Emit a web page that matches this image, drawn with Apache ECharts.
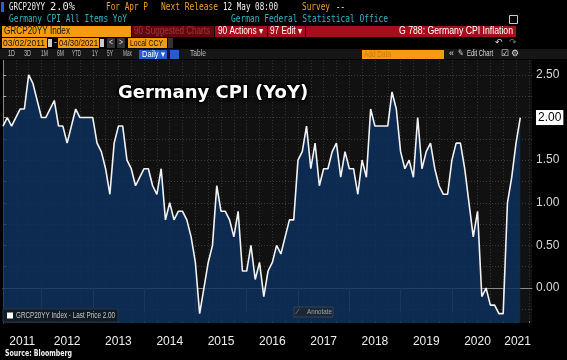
<!DOCTYPE html>
<html><head><meta charset="utf-8">
<script src="https://cdn.jsdelivr.net/npm/echarts@6/dist/echarts.min.js"></script>
<style>html,body{margin:0;padding:0;background:#000;overflow:hidden}#c{width:567px;height:360px;}</style>
</head><body><div id="c"></div>
<script>
// Monthly Germany CPI YoY (%), starting March 2011, ending April 2021
const startYear = 2011;
const startMonth = 3;
const cpiYoY = [
  1.9, 2.0, 1.9, 2.0, 2.1, 2.1, 2.5, 2.4, 2.2, 2.0,            // Mar-Dec 2011
  2.0, 2.1, 2.2, 1.9, 1.9, 1.7, 1.9, 2.1, 2.0, 2.0, 2.0, 2.0,  // 2012
  1.7, 1.6, 1.4, 1.1, 1.7, 1.9, 1.9, 1.5, 1.4, 1.2, 1.3, 1.4,  // 2013
  1.4, 1.2, 1.1, 1.4, 0.8, 1.0, 0.8, 0.9, 0.9, 0.8, 0.6, 0.3,  // 2014
  -0.3, 0.0, 0.3, 0.5, 1.2, 0.9, 0.9, 0.8, 0.6, 0.9, 0.2, 0.2, // 2015
  0.5, 0.1, 0.3, -0.1, 0.2, 0.3, 0.5, 0.4, 0.6, 0.8, 0.8, 1.5, // 2016
  1.6, 1.9, 1.4, 1.7, 1.2, 1.4, 1.4, 1.6, 1.7, 1.3, 1.6, 1.4,  // 2017
  1.4, 1.1, 1.5, 1.3, 2.1, 1.9, 1.9, 1.9, 1.9, 2.3, 2.1, 1.6,  // 2018
  1.4, 1.5, 1.3, 2.0, 1.4, 1.6, 1.7, 1.4, 1.2, 1.1, 1.1, 1.5,  // 2019
  1.7, 1.7, 1.4, 1.0, 0.6, 0.9, -0.1, 0.0, -0.2, -0.2, -0.3, -0.3, // 2020
  1.0, 1.3, 1.7, 2.0                                           // Jan-Apr 2021
];
const yearLabels = ['2011','2012','2013','2014','2015','2016','2017','2018','2019','2020','2021'];
const yTickLabels = [0, 0.5, 1.0, 1.5, 2.0, 2.5];
const yGridValues = [-0.25, 0, 0.25, 0.5, 0.75, 1.0, 1.25, 1.5, 1.75, 2.0, 2.25, 2.5];
const lastPrice = 2.00;

const xMin = 0, xMax = 123.74;
const seriesData = cpiYoY.map((v, i) => [i, v]);
const dividers = [];
for (let y = 2012; y <= 2021; y++) dividers.push((y - startYear) * 12 - startMonth);
const labelPos = yearLabels.map((yl, i) => {
  const a = i === 0 ? xMin : dividers[i - 1];
  const b = i < dividers.length ? dividers[i] : xMax;
  return (Math.max(a, xMin) + Math.min(b, xMax)) / 2;
});
const quarterTicks = [];
for (let q = 0; q <= xMax; q += 3) quarterTicks.push(q);

const M = "'DejaVu Sans Mono'";
const S = "'Liberation Sans'";
const cv = document.createElement('canvas').getContext('2d');
function T(x, y, text, fill, fam, size, width, opt) {
  opt = opt || {};
  const font = (opt.weight || 'normal') + ' ' + size + 'px ' + fam;
  cv.font = font;
  const w = cv.measureText(text).width;
  const sx = width ? Math.min(1.15, width / w) : 1;
  return { type: 'text', x: x, y: y, z: 100, scaleX: sx,
    style: { text: text, fill: fill, font: font, verticalAlign: 'middle', align: opt.align || 'left' } };
}
function R(x, y, w, h, fill, stroke) {
  return { type: 'rect', z: 90, shape: { x: x, y: y, width: w, height: h },
    style: stroke ? { fill: fill, stroke: stroke, lineWidth: 1 } : { fill: fill } };
}
const orange = '#f39c12';
const darkRed = '#5e0a0f';
const red = '#a3101c';
const hdr = [
  R(0, 0, 567, 60, '#000'),
  R(1, 2, 3, 10, '#2b5cd6'),
  T(9, 7, 'GRCP20YY', '#f0f0f0', M, 10, 36),
  T(50, 7, '2.0%', '#f0f0f0', M, 10.5, 25),
  T(106, 7, 'For Apr P', '#f0a030', M, 10, 42),
  T(161, 7, 'Next Release', '#f0a030', M, 10, 57),
  T(223, 7, '12 May 08:00', '#f0f0f0', M, 10, 55),
  T(302, 7, 'Survey', '#f0a030', M, 10, 28),
  T(336, 7, '--', '#f0f0f0', M, 10, 9),
  T(9, 19, 'Germany CPI All Items YoY', '#35b6c8', M, 10, 118),
  T(231, 19, 'German Federal Statistical Office', '#35b6c8', M, 10, 157),
  R(509.5, 15.5, 8, 8, 'none', '#ccc'),
  R(2, 26, 129, 11, orange),
  T(4, 31.5, 'GRCP20YY Index', '#111', S, 10, 66),
  R(132, 26, 82, 11, darkRed),
  T(134, 31.5, '90 Suggested Charts', '#a8323a', S, 10, 76),
  R(215, 26, 52, 11, red),
  T(218, 31.5, '90 Actions \u25BE', '#fff', S, 10, 45),
  R(268, 26, 37, 11, red),
  T(270, 31.5, '97 Edit \u25BE', '#fff', S, 10, 32),
  R(306, 26, 210, 11, red),
  T(513, 31.5, 'G 788: Germany CPI Inflation', '#fff', S, 10, 114, { align: 'right' }),
  R(2, 38, 45, 10, orange),
  T(3, 43, '03/02/2011', '#111', S, 9.5, 42),
  R(48, 39, 4, 8, '#ccc'),
  T(54, 43, '-', '#ddd', S, 9, 3),
  R(58, 38, 41, 10, orange),
  T(59, 43, '04/30/2021', '#111', S, 9.5, 39),
  R(100, 39, 4, 8, '#ccc'),
  R(107, 38, 8, 10, '#333'),
  T(109, 43, '<', '#ddd', S, 9, 4),
  R(117, 38, 8, 10, '#333'),
  T(119, 43, '>', '#ddd', S, 9, 4),
  R(128, 38, 39, 10, orange),
  T(130, 43, 'Local CCY', '#111', S, 9.5, 33),
  R(168, 38, 5, 10, '#333'),
  T(495, 43, '\u21B6', '#ddd', S, 9, 8),
  T(509, 43, '\u21B7', '#777', S, 9, 8),
  R(0, 49, 567, 10, '#161616'),
  T(8, 54, '1D', '#bbb', S, 8.5, 7),
  T(24, 54, '3D', '#bbb', S, 8.5, 7),
  T(41, 54, '1M', '#bbb', S, 8.5, 7),
  T(57, 54, '6M', '#bbb', S, 8.5, 7),
  T(72, 54, 'YTD', '#bbb', S, 8.5, 9),
  T(92, 54, '1Y', '#bbb', S, 8.5, 6),
  T(107, 54, '5Y', '#bbb', S, 8.5, 6),
  T(123, 54, 'Max', '#bbb', S, 8.5, 9),
  R(139, 50, 28, 9, '#1f5fd0'),
  T(142, 54.5, 'Daily \u25BE', '#fff', S, 8.5, 23),
  R(170, 50, 9, 9, '#1f5fd0'),
  T(190, 54, 'Table', '#bbb', S, 8.5, 16),
  R(362, 50, 82, 9, orange),
  T(364, 54.5, 'Add Data', '#c07a10', S, 8.5, 27),
  T(449, 54, '\u00AB', '#ddd', S, 9, 5),
  T(458, 54, '\u270E', '#ddd', S, 9, 6),
  T(467, 54, 'Edit Chart', '#ddd', S, 8.5, 26),
  T(501, 54, '\u2611', '#ddd', S, 9, 8),
  T(511, 54, '\u2699', '#ddd', S, 9, 8),
  {
    type: 'text', x: 118, y: 93, z: 100,
    style: { text: 'Germany CPI (YoY)', fill: '#fff', font: 'bold 18px "DejaVu Sans"', verticalAlign: 'middle', align: 'left',
             stroke: '#000', lineWidth: 2, textShadowColor: 'rgba(0,0,0,0.9)', textShadowBlur: 4 }
  },
  R(3, 309, 115, 13, 'rgba(18,24,34,0.9)', '#2a3240'),
  R(7, 312.5, 6, 6, '#fff'),
  T(16, 315.5, 'GRCP20YY Index - Last Price 2.00', '#c8c8c8', S, 8.5, 99),
  R(294, 307, 39, 10, 'rgba(30,38,52,0.9)', '#3a4250'),
  T(297, 312, '\u2215', '#888', S, 7.5, 5),
  T(307, 312, 'Annotate', '#9aa', S, 7.5, 25),
  T(5, 354, 'Source: Bloomberg', '#f0f0f0', "'DejaVu Sans'", 9, 67, { weight: 'bold' })
];

const chart = echarts.init(document.getElementById('c'), null, { renderer: 'canvas' });
chart.setOption({
  backgroundColor: '#000',
  animation: false,
  grid: { left: 3, right: 35, top: 60, bottom: 37, show: true, backgroundColor: '#111111', borderWidth: 0 },
  xAxis: [{
    type: 'value', min: xMin, max: xMax, position: 'bottom',
    axisLine: { show: true, lineStyle: { color: '#8a8a8a', width: 1 } },
    axisTick: { show: true, customValues: dividers, length: 24, lineStyle: { color: '#5a5a5a', width: 1 } },
    axisLabel: { show: true, customValues: labelPos, margin: 13, color: '#eeeeee', fontSize: 12,
      fontFamily: 'Liberation Sans',
      formatter: v => yearLabels[Math.floor((v + startMonth - 1) / 12)] },
    splitLine: { show: false }
  }, {
    type: 'value', min: xMin, max: xMax, position: 'bottom', gridIndex: 0,
    axisLine: { show: false },
    axisTick: { show: true, customValues: quarterTicks, inside: true, length: 2, lineStyle: { color: '#777' } },
    axisLabel: { show: false },
    splitLine: { show: true, lineStyle: { color: '#363636', type: [1, 2], width: 1 } }
  }],
  yAxis: {
    type: 'value', position: 'right', min: -0.41, max: 2.675,
    axisLine: { show: true, lineStyle: { color: '#8a8a8a' } },
    axisTick: { show: true, customValues: yGridValues, length: 3, lineStyle: { color: '#aaa' } },
    axisLabel: { show: true, customValues: yTickLabels, margin: 4, color: '#d8d8d8', fontSize: 12,
      fontFamily: 'Liberation Sans',
      formatter: v => Math.abs(v - lastPrice) < 1e-9 ? '{last|' + v.toFixed(2) + '}' : v.toFixed(2),
      rich: { last: { backgroundColor: '#fff', color: '#000', padding: [2, 2, 1, 2], fontSize: 12, fontFamily: 'Liberation Sans' } } },
    splitLine: { show: true, lineStyle: { color: '#3c3c3c', type: [1, 2], width: 1 } }
  },
  series: [{
    type: 'line', data: seriesData, xAxisIndex: 0, yAxisIndex: 0,
    showSymbol: false, symbol: 'none',
    lineStyle: { color: '#f2f2f2', width: 1.6 },
    areaStyle: { color: '#0c2f5e', opacity: 0.82, origin: 'start' },
    z: 3
  }],
  graphic: { elements: hdr }
});
</script>
</body></html>
